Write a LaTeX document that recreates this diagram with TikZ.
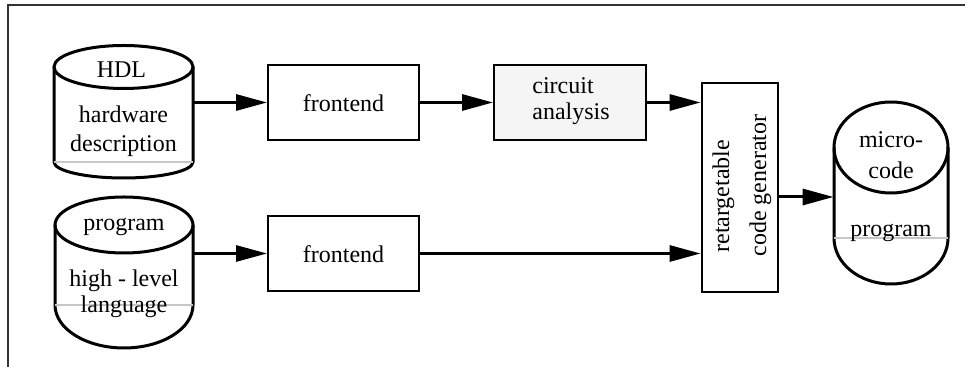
\documentclass[tikz,border=0pt]{standalone}
\usepackage{fontspec}
\setmainfont{Liberation Serif}
\usetikzlibrary{arrows.meta}
\begin{document}
\begin{tikzpicture}[x=0.5pt,y=-0.5pt,
  txt/.style={font=\fontsize{12pt}{15pt}\selectfont, inner sep=0pt},
  proc/.style={draw, line width=1pt, minimum width=75.5pt, minimum height=37.5pt, inner sep=0pt},
  gen/.style={draw, line width=1.4pt, minimum width=38pt, minimum height=104.5pt, inner sep=0pt},
  hold/.style={draw=none, inner sep=0pt},
  cylline/.style={line width=1.5pt},
  seam/.style={draw=black!22, line width=0.7pt},
  arr/.style={line width=1.5pt, -{Triangle[length=15.5pt, width=8pt]}},
  frame/.style={line width=1pt, draw=black!80}
]
\useasboundingbox (0,0) rectangle (965,367);
% frame
\draw[frame] (8,367) -- (8,5) -- (965,5);

% --- cylinders (shapes) ---
% HDL
\draw[cylline] (123.5,67) ellipse [x radius=69.5, y radius=21.5];
\draw[cylline] (54,67) -- (54,162) arc[start angle=180, end angle=0, x radius=69.5, y radius=16] -- (193,67);
\draw[seam] (54,162) -- (193,162);
% program
\draw[cylline] (124,225) ellipse [x radius=69, y radius=28];
\draw[cylline] (55,225) -- (55,305) arc[start angle=180, end angle=0, x radius=69, y radius=43] -- (193,225);
\draw[seam] (55,305) -- (193,305);
% micro-code
\draw[cylline] (891,147.5) ellipse [x radius=57, y radius=45.5];
\draw[cylline] (834,147.5) -- (834,238) arc[start angle=180, end angle=0, x radius=57, y radius=46] -- (948,147.5);
\draw[seam] (834,238) -- (948,238);

% holder nodes for cylinders
\node[hold, minimum width=69.5pt, minimum height=65pt] (hdl) at (123.5,113) {};
\node[hold, minimum width=69pt, minimum height=76pt] (prg) at (124,272) {};
\node[hold, minimum width=57pt, minimum height=95pt] (mc) at (891,197) {};

% cylinder texts
\node[txt, anchor=base] (hdlA) at (121.5,78) {HDL};
\node[txt, anchor=base] (hdlB) at (123.5,123) {hardware};
\node[txt, anchor=base] (hdlC) at (123.5,152) {description};
\node[txt, anchor=base] (prgA) at (124,231) {program};
\node[txt, anchor=base] (prgB) at (124,287) {high - level};
\node[txt, anchor=base] (prgC) at (124,313) {language};
\node[txt, anchor=base] (mcA) at (891,148) {micro-};
\node[txt, anchor=base] (mcB) at (891,179) {code};
\node[txt, anchor=base] (mcC) at (891,237) {program};

% boxes
\node[proc] (fe1) at (343.5,102.5) {};
\node[txt, anchor=base] (fe1t) at (343.5,112) {frontend};
\node[proc] (fe2) at (343.5,253.5) {};
\node[txt, anchor=base] (fe2t) at (343.5,263) {frontend};
\node[proc, fill=black!4, minimum width=76pt] (ca) at (570,102.5) {};
\node[txt, anchor=base west] (caA) at (532,94) {circuit};
\node[txt, anchor=base west] (caB) at (532,120) {analysis};
\node[gen] (rcg) at (740,187.5) {};
\node[txt, rotate=90, anchor=base west] (rcgA) at (729,253) {retargetable};
\node[txt, rotate=90, anchor=base west] (rcgB) at (766,257) {code generator};

% connectors
\draw[arr] (fe1.west -| hdl.east) -- (fe1.west);
\draw[arr] (fe1.east) -- (ca.west);
\draw[arr] (ca.east) -- (ca.east -| rcg.west);
\draw[arr] (fe2.west -| prg.east) -- (fe2.west);
\draw[arr] (fe2.east) -- (fe2.east -| rcg.west);
\draw[arr] (mc.west -| rcg.east) -- (mc.west);
\end{tikzpicture}
\end{document}
